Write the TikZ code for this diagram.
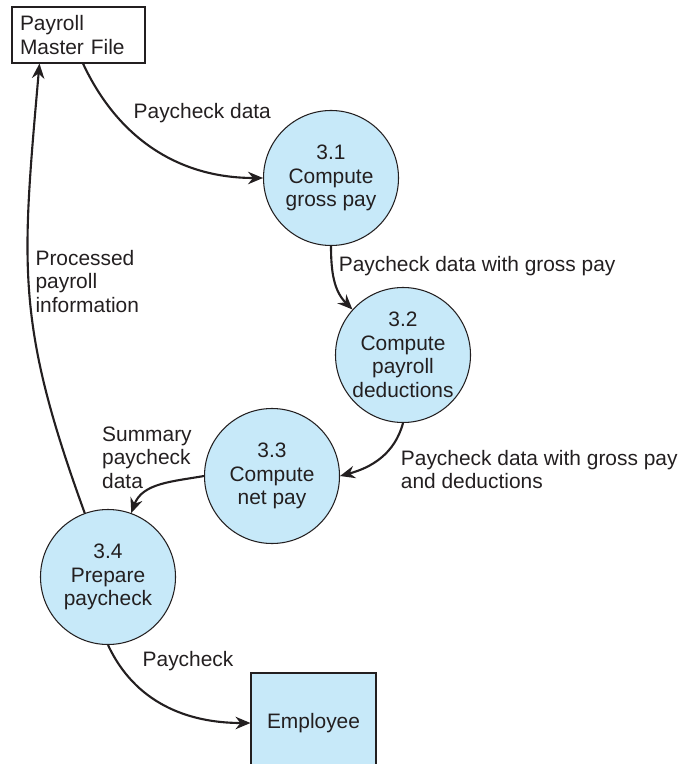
\documentclass[tikz,border=0pt]{standalone}
\usepackage{fontspec}
\setmainfont{Liberation Sans}
\usetikzlibrary{shapes,arrows.meta}
\usetikzlibrary{positioning}
\definecolor{procblue}{RGB}{199,233,249}
\definecolor{ink}{RGB}{35,31,32}
\tikzstyle{line} = [draw, -{Stealth[length=0.3cm, width=0.25cm, inset=0.1cm]}, line width=1.2pt, color=ink]
\tikzstyle{flowlabel} = [align=left, text=ink, font=\fontsize{11.9}{13.4}\selectfont]

\begin{document}
\begin{tikzpicture}[
	proc/.style={circle, draw=ink, line width=0.6pt, fill=procblue, minimum size=2.7cm,
		inner sep=0pt, align=center, text=ink, font=\fontsize{11.9}{13.4}\selectfont},
	store/.style={rectangle, draw=ink, line width=0.6pt, text width=2.34cm, inner sep=0.16cm,
		minimum height=1.12cm, align=left, text=ink, font=\fontsize{11.9}{13.4}\selectfont}]
    \useasboundingbox (0,0) rectangle (13.62,-15.28);
    \node [store, fill=white] (master) at (1.57,-0.70) {Payroll\\Master File};
    \node [proc, on grid, below right=2.86cm and 5.05cm of master] (p31) {3.1\\Compute\\gross pay};
    \node [proc, on grid, below right=3.54cm and 1.44cm of p31] (p32) {3.2\\Compute\\payroll\\deductions};
    \node [proc, on grid, below left=2.42cm and 2.62cm of p32] (p33) {3.3\\Compute\\net pay};
    \node [proc, on grid, below left=2.02cm and 3.28cm of p33] (p34) {3.4\\Prepare\\paycheck};
    \node [store, fill=procblue, on grid, below right=2.92cm and 4.11cm of p34, text width=2.18cm,
    	minimum height=2cm, align=center] (emp) {Employee};
	%% Data flows
	\path [line] ([xshift=0.09cm]master.south) to [out=-65, in=180]
		node [pos=0.25, anchor=west, xshift=0.25cm, flowlabel] (lblPayData) {Paycheck data} (p31.west);
	\path [line] (p31.south) to [out=-90, in=135]
		node [pos=0.27, anchor=west, flowlabel] (lblGross) {Paycheck data with gross pay} (p32.138);
	\path [line] (p32.south) to [out=-105, in=15]
		node [pos=0.25, anchor=north west, flowlabel] (lblDeduct) {Paycheck data with gross pay\\and deductions} (p33.east);
	\path [line] (p33.west) to [out=190, in=70]
		node [pos=0.75, anchor=south west, xshift=-0.95cm, flowlabel] (lblSummary) {Summary\\paycheck\\data} (p34.70);
	%% Back to the master file and out to the employee
	\path [line] (p34.110) to [out=110, in=-95, looseness=1.15]
		node [pos=0.53, anchor=west, flowlabel] (lblProcessed) {Processed\\payroll\\information} ([xshift=0.56cm]master.south west);
	\path [line] (p34.south) to [out=-65, in=180]
		node [pos=0.1, anchor=west, xshift=0.38cm, flowlabel] (lblCheck) {Paycheck} (emp.west);
\end{tikzpicture}
\end{document}
